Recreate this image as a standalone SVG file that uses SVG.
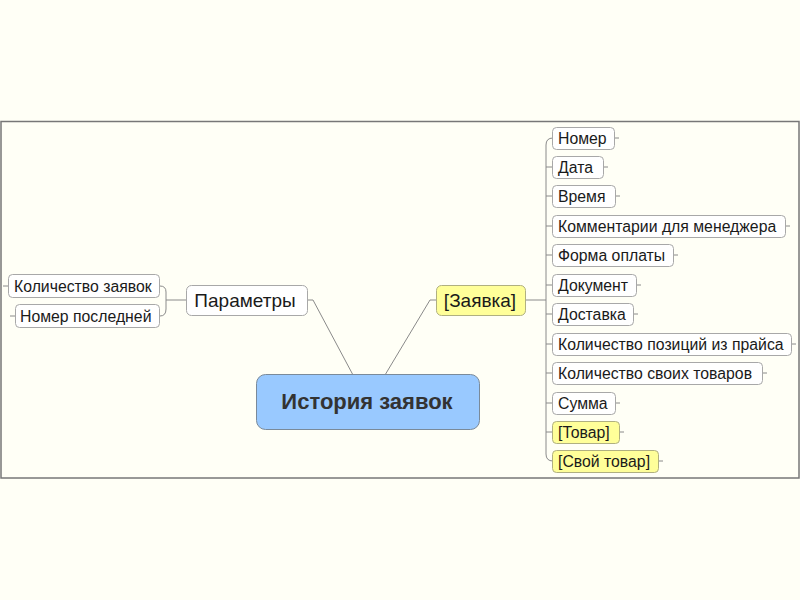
<svg xmlns="http://www.w3.org/2000/svg" width="800" height="600" viewBox="0 0 800 600">
<style>
text{font-family:"Liberation Sans",Arial,sans-serif;fill:#1a1a1a}
.n rect{fill:#ffffff;stroke:#a8a8a8;stroke-width:1}
.y rect{fill:#ffff99;stroke:#b0b080;stroke-width:1}
.t{font-size:15.8px}
.c path,.c line{fill:none;stroke:#8a8a8a;stroke-width:1}
</style>
<rect width="800" height="600" fill="#fffff6"/>
<rect x="1" y="121.5" width="798" height="356.5" fill="#fffff6" stroke="#777" stroke-width="1.5"/>
<g id="connectors" class="c">
<path d="M308,300 H313 L353,375"/>
<path d="M437,300 H430 L385,375"/>
<path d="M186,300 H166"/>
<path d="M160,286 Q166,286 166,292 V309 Q166,316 160,316"/>
<path d="M8,286 H3"/>
<path d="M15,316 H10"/>
<path d="M525,300 H546"/>
<path d="M553,138 Q546,138 546,145 V454 Q546,461 553,461"/>
<path d="M546,167 H553 M546,196 H553 M546,226 H553 M546,255 H553 M546,285 H553 M546,314 H553 M546,344 H553 M546,373 H553 M546,403 H553 M546,432 H553"/>
<path d="M615,138 H619 M604,167 H608 M616,196 H620 M786,226 H790 M674,255 H678 M637,285 H641 M634,314 H638 M792,344 H796 M763,373 H767 M616,403 H620 M620,432 H624 M659,461 H663"/>
</g>
<g id="center">
<rect x="256.5" y="374.5" width="223" height="55" rx="9" fill="#99c9ff" stroke="#7a8a9a"/>
<text x="367" y="409" text-anchor="middle" font-size="22" font-weight="bold" style="fill:#333">История заявок</text>
</g>
<g id="params" class="n">
<rect x="186.5" y="285.5" width="121" height="30" rx="5"/>
<text x="245" y="307" text-anchor="middle" font-size="19">Параметры</text>
</g>
<g id="zayavka" class="y">
<rect x="436.5" y="285.5" width="89" height="30" rx="5"/>
<text x="480" y="307" text-anchor="middle" font-size="19">[Заявка]</text>
</g>
<g id="kol-zayavok" class="n">
<rect x="8.5" y="274.5" width="151" height="23" rx="4"/>
<text class="t" x="14" y="291.5">Количество заявок</text>
</g>
<g id="nomer-posl" class="n">
<rect x="15.5" y="304.5" width="144" height="23" rx="4"/>
<text class="t" x="20" y="321.5">Номер последней</text>
</g>
<g id="nomer" class="n"><rect x="552.5" y="127.5" width="62" height="22" rx="4"/><text class="t" x="558" y="143.5">Номер</text></g>
<g id="data" class="n"><rect x="552.5" y="156.5" width="51" height="22" rx="4"/><text class="t" x="558" y="172.5">Дата</text></g>
<g id="vremya" class="n"><rect x="552.5" y="185.5" width="63" height="22" rx="4"/><text class="t" x="558" y="201.5">Время</text></g>
<g id="komment" class="n"><rect x="552.5" y="215.5" width="233" height="22" rx="4"/><text class="t" x="558" y="231.5">Комментарии для менеджера</text></g>
<g id="forma" class="n"><rect x="552.5" y="244.5" width="121" height="22" rx="4"/><text class="t" x="558" y="260.5">Форма оплаты</text></g>
<g id="dokument" class="n"><rect x="552.5" y="274.5" width="84" height="22" rx="4"/><text class="t" x="558" y="290.5">Документ</text></g>
<g id="dostavka" class="n"><rect x="552.5" y="303.5" width="81" height="22" rx="4"/><text class="t" x="558" y="319.5">Доставка</text></g>
<g id="kol-pozicij" class="n"><rect x="552.5" y="333.5" width="239" height="22" rx="4"/><text class="t" x="558" y="349.5">Количество позиций из прайса</text></g>
<g id="kol-svoih" class="n"><rect x="552.5" y="362.5" width="210" height="22" rx="4"/><text class="t" x="558" y="378.5">Количество своих товаров</text></g>
<g id="summa" class="n"><rect x="552.5" y="392.5" width="63" height="22" rx="4"/><text class="t" x="558" y="408.5">Сумма</text></g>
<g id="tovar" class="y"><rect x="552.5" y="421.5" width="67" height="22" rx="4"/><text class="t" x="558" y="437.5">[Товар]</text></g>
<g id="svoj-tovar" class="y"><rect x="552.5" y="450.5" width="106" height="22" rx="4"/><text class="t" x="558" y="466.5">[Свой товар]</text></g>
</svg>
